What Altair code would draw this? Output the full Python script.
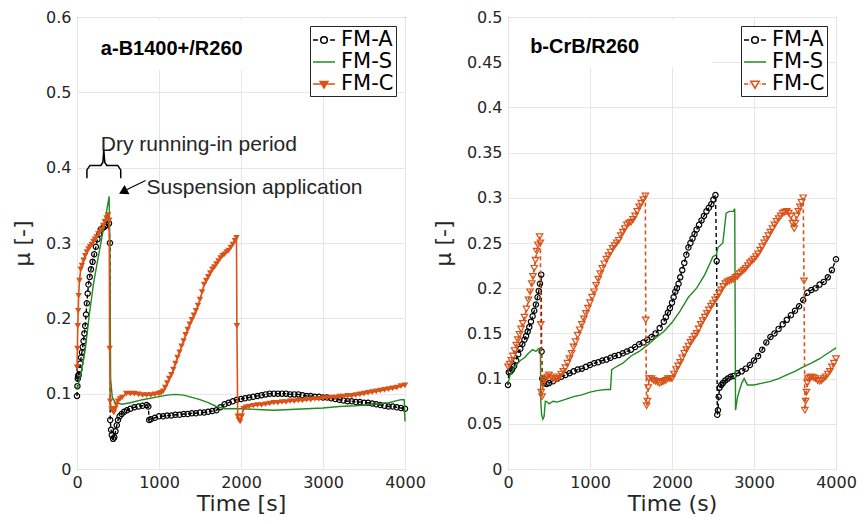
import altair as alt
import pandas as pd

# ---------------- data : panel a (B1400+/R260), (time s, mu) ----------------
a_FMA = [(0, 0.097), (5, 0.11), (10, 0.12), (15, 0.123), (20, 0.125), (30, 0.132), (40, 0.14),
         (50, 0.148), (60, 0.155), (70, 0.162), (80, 0.17), (90, 0.18), (100, 0.19), (110, 0.205),
         (120, 0.22), (130, 0.233), (140, 0.245), (155, 0.255), (170, 0.265), (190, 0.275),
         (210, 0.285), (230, 0.295), (250, 0.305), (270, 0.312), (290, 0.318), (315, 0.32),
         (340, 0.322), (365, 0.324), (390, 0.326), (402, 0.3), (405, 0.065), (415, 0.052),
         (425, 0.045), (440, 0.04), (455, 0.042), (470, 0.05), (485, 0.058), (500, 0.065),
         (520, 0.07), (545, 0.073), (575, 0.076), (610, 0.078), (650, 0.08), (700, 0.082),
         (750, 0.083), (800, 0.084), (850, 0.085), (870, 0.083), (880, 0.065), (900, 0.066),
         (950, 0.068), (1000, 0.07), (1050, 0.07), (1100, 0.071), (1150, 0.071), (1200, 0.072),
         (1250, 0.072), (1300, 0.073), (1350, 0.073), (1400, 0.074), (1450, 0.074), (1500, 0.075),
         (1550, 0.075), (1600, 0.076), (1650, 0.077), (1700, 0.078), (1750, 0.082), (1800, 0.086),
         (1850, 0.088), (1900, 0.09), (1950, 0.092), (2000, 0.093), (2050, 0.094), (2100, 0.095),
         (2150, 0.096), (2200, 0.097), (2250, 0.098), (2300, 0.099), (2350, 0.1), (2400, 0.1),
         (2450, 0.1), (2500, 0.1), (2550, 0.1), (2600, 0.099), (2650, 0.099), (2700, 0.099),
         (2750, 0.098), (2800, 0.097), (2850, 0.097), (2900, 0.096), (2950, 0.096), (3000, 0.095),
         (3050, 0.095), (3100, 0.094), (3150, 0.093), (3200, 0.092), (3250, 0.091), (3300, 0.09),
         (3350, 0.09), (3400, 0.089), (3450, 0.089), (3500, 0.088), (3550, 0.088), (3600, 0.087),
         (3650, 0.086), (3700, 0.085), (3750, 0.084), (3800, 0.083), (3850, 0.083), (3900, 0.082),
         (3950, 0.081), (4000, 0.08)]

a_FMS = [(0, 0.105), (50, 0.128), (100, 0.158), (150, 0.205), (200, 0.245), (250, 0.276),
         (300, 0.305), (350, 0.335), (392, 0.362), (400, 0.3), (410, 0.12), (430, 0.095),
         (470, 0.088), (550, 0.086), (650, 0.088), (800, 0.092), (1000, 0.096), (1100, 0.098),
         (1200, 0.099), (1300, 0.098), (1400, 0.095), (1500, 0.092), (1600, 0.088), (1700, 0.083),
         (1800, 0.08), (1900, 0.08), (2000, 0.08), (2200, 0.079), (2400, 0.078), (2600, 0.079),
         (2800, 0.08), (3000, 0.081), (3200, 0.083), (3400, 0.084), (3600, 0.086), (3800, 0.088),
         (3950, 0.092), (3990, 0.092), (4000, 0.063)]

a_FMC = [(0, 0.135), (5, 0.16), (10, 0.19), (15, 0.21), (20, 0.23), (30, 0.25), (45, 0.265),
         (60, 0.27), (80, 0.277), (100, 0.283), (120, 0.288), (140, 0.292), (160, 0.295),
         (180, 0.298), (200, 0.302), (220, 0.305), (240, 0.308), (260, 0.312), (280, 0.315),
         (300, 0.318), (320, 0.323), (340, 0.328), (360, 0.333), (380, 0.337), (393, 0.33),
         (398, 0.16), (405, 0.09), (420, 0.08), (435, 0.077), (450, 0.075), (465, 0.08),
         (480, 0.085), (500, 0.09), (525, 0.093), (550, 0.095), (600, 0.1), (650, 0.1), (700, 0.1),
         (750, 0.099), (800, 0.098), (850, 0.098), (900, 0.098), (950, 0.099), (1000, 0.1),
         (1025, 0.101), (1050, 0.103), (1075, 0.108), (1100, 0.114), (1125, 0.12), (1150, 0.125),
         (1175, 0.132), (1200, 0.14), (1225, 0.148), (1250, 0.155), (1275, 0.163), (1300, 0.17),
         (1325, 0.178), (1350, 0.185), (1375, 0.192), (1400, 0.198), (1425, 0.204), (1450, 0.21),
         (1475, 0.217), (1500, 0.225), (1525, 0.235), (1550, 0.245), (1575, 0.25), (1600, 0.255),
         (1625, 0.26), (1650, 0.265), (1675, 0.268), (1700, 0.272), (1725, 0.276), (1750, 0.28),
         (1775, 0.283), (1800, 0.285), (1825, 0.288), (1850, 0.29), (1875, 0.294), (1900, 0.298),
         (1925, 0.303), (1945, 0.307), (1950, 0.19), (1960, 0.07), (1975, 0.065), (1990, 0.063),
         (2010, 0.07), (2030, 0.08), (2060, 0.082), (2100, 0.083), (2150, 0.084), (2200, 0.085),
         (2250, 0.085), (2300, 0.086), (2350, 0.087), (2400, 0.088), (2450, 0.088), (2500, 0.089),
         (2550, 0.089), (2600, 0.09), (2650, 0.09), (2700, 0.091), (2750, 0.091), (2800, 0.092),
         (2850, 0.092), (2900, 0.093), (2950, 0.093), (3000, 0.094), (3050, 0.094), (3100, 0.095),
         (3150, 0.095), (3200, 0.096), (3250, 0.096), (3300, 0.097), (3350, 0.097), (3400, 0.098),
         (3450, 0.099), (3500, 0.1), (3550, 0.101), (3600, 0.102), (3650, 0.103), (3700, 0.104),
         (3750, 0.105), (3800, 0.106), (3850, 0.107), (3900, 0.108), (3950, 0.11), (4000, 0.111)]

# ---------------- data : panel b (CrB/R260), (time s, mu) ----------------
b_FMA = [(0, 0.093), (10, 0.107), (30, 0.108), (50, 0.11), (75, 0.114), (100, 0.12), (125, 0.127),
         (150, 0.133), (175, 0.138), (200, 0.143), (220, 0.147), (240, 0.152), (260, 0.157),
         (280, 0.163), (300, 0.169), (320, 0.175), (340, 0.182), (360, 0.19), (375, 0.197),
         (390, 0.205), (405, 0.215), (410, 0.13), (418, 0.1), (430, 0.097), (440, 0.095),
         (470, 0.094), (500, 0.095), (550, 0.097), (600, 0.1), (650, 0.102), (700, 0.104),
         (750, 0.106), (800, 0.108), (850, 0.11), (900, 0.111), (950, 0.113), (1000, 0.115),
         (1050, 0.117), (1100, 0.118), (1150, 0.12), (1200, 0.121), (1250, 0.123), (1300, 0.125),
         (1350, 0.126), (1400, 0.128), (1450, 0.13), (1500, 0.132), (1550, 0.135), (1600, 0.138),
         (1650, 0.14), (1700, 0.143), (1750, 0.146), (1800, 0.15), (1850, 0.156), (1900, 0.163),
         (1925, 0.168), (1950, 0.173), (1975, 0.178), (2000, 0.184), (2020, 0.19), (2040, 0.196),
         (2060, 0.2), (2080, 0.205), (2100, 0.212), (2125, 0.22), (2150, 0.228), (2175, 0.237),
         (2200, 0.245), (2225, 0.25), (2250, 0.255), (2275, 0.26), (2300, 0.265), (2330, 0.27),
         (2360, 0.275), (2390, 0.28), (2420, 0.285), (2450, 0.289), (2480, 0.293), (2505, 0.298),
         (2530, 0.303), (2545, 0.23), (2552, 0.06), (2560, 0.065), (2570, 0.08), (2580, 0.09),
         (2600, 0.093), (2620, 0.095), (2650, 0.098), (2680, 0.1), (2715, 0.102), (2750, 0.103),
         (2800, 0.106), (2850, 0.108), (2900, 0.111), (2950, 0.115), (3000, 0.12), (3050, 0.125),
         (3100, 0.132), (3150, 0.14), (3200, 0.146), (3250, 0.15), (3300, 0.155), (3350, 0.16),
         (3400, 0.165), (3450, 0.17), (3500, 0.175), (3550, 0.18), (3600, 0.187), (3650, 0.195),
         (3700, 0.198), (3750, 0.2), (3800, 0.204), (3850, 0.207), (3900, 0.212), (3950, 0.22),
         (4000, 0.232)]

b_FMS = [(0, 0.095), (30, 0.105), (80, 0.113), (150, 0.12), (200, 0.123), (250, 0.128),
         (300, 0.132), (340, 0.13), (370, 0.133), (395, 0.134), (400, 0.075), (410, 0.06),
         (425, 0.055), (440, 0.058), (455, 0.075), (480, 0.074), (500, 0.072), (550, 0.075),
         (600, 0.074), (700, 0.077), (800, 0.08), (900, 0.082), (1000, 0.085), (1100, 0.087),
         (1200, 0.088), (1250, 0.088), (1265, 0.11), (1300, 0.112), (1400, 0.117), (1500, 0.125),
         (1600, 0.13), (1700, 0.137), (1800, 0.145), (1900, 0.152), (2000, 0.162), (2100, 0.175),
         (2200, 0.19), (2300, 0.2), (2400, 0.215), (2500, 0.235), (2540, 0.237), (2560, 0.245),
         (2620, 0.25), (2660, 0.283), (2700, 0.285), (2750, 0.285), (2765, 0.288), (2775, 0.065),
         (2800, 0.08), (2850, 0.095), (2880, 0.1), (2920, 0.093), (3000, 0.093), (3100, 0.095),
         (3200, 0.097), (3300, 0.1), (3400, 0.104), (3500, 0.108), (3600, 0.113), (3700, 0.117),
         (3800, 0.122), (3900, 0.128), (4000, 0.134)]

b_FMC = [(0, 0.113), (20, 0.116), (40, 0.12), (60, 0.125), (80, 0.131), (100, 0.137), (120, 0.143),
         (140, 0.149), (160, 0.155), (180, 0.161), (200, 0.168), (225, 0.177), (250, 0.187),
         (270, 0.196), (290, 0.205), (305, 0.213), (320, 0.222), (335, 0.231), (350, 0.241),
         (365, 0.248), (385, 0.257), (395, 0.25), (400, 0.16), (405, 0.085), (415, 0.08),
         (430, 0.095), (445, 0.098), (460, 0.1), (480, 0.102), (500, 0.104), (525, 0.102),
         (550, 0.1), (575, 0.1), (600, 0.1), (625, 0.102), (650, 0.105), (675, 0.108), (700, 0.112),
         (725, 0.117), (750, 0.122), (775, 0.128), (800, 0.135), (825, 0.141), (850, 0.148),
         (875, 0.154), (900, 0.16), (925, 0.166), (950, 0.172), (975, 0.178), (1000, 0.184),
         (1025, 0.19), (1050, 0.196), (1075, 0.203), (1100, 0.21), (1125, 0.216), (1150, 0.222),
         (1175, 0.227), (1200, 0.232), (1225, 0.236), (1250, 0.24), (1275, 0.244), (1300, 0.247),
         (1325, 0.25), (1350, 0.253), (1375, 0.258), (1400, 0.262), (1425, 0.266), (1450, 0.27),
         (1475, 0.272), (1500, 0.273), (1525, 0.276), (1550, 0.28), (1575, 0.285), (1600, 0.29),
         (1625, 0.294), (1650, 0.298), (1675, 0.302), (1680, 0.165), (1690, 0.07), (1700, 0.075),
         (1710, 0.09), (1720, 0.1), (1750, 0.1), (1775, 0.098), (1800, 0.097), (1825, 0.096),
         (1850, 0.095), (1875, 0.096), (1900, 0.097), (1925, 0.098), (1950, 0.1), (1975, 0.1),
         (2000, 0.1), (2025, 0.105), (2050, 0.11), (2075, 0.114), (2100, 0.118), (2125, 0.123),
         (2150, 0.128), (2175, 0.132), (2200, 0.136), (2225, 0.14), (2250, 0.143), (2275, 0.147),
         (2300, 0.15), (2325, 0.155), (2350, 0.16), (2375, 0.164), (2400, 0.168), (2425, 0.172),
         (2450, 0.176), (2475, 0.18), (2500, 0.183), (2525, 0.187), (2550, 0.19), (2575, 0.194),
         (2600, 0.198), (2625, 0.202), (2650, 0.205), (2675, 0.207), (2700, 0.208), (2725, 0.209),
         (2750, 0.21), (2775, 0.212), (2800, 0.213), (2825, 0.216), (2850, 0.218), (2875, 0.22),
         (2900, 0.222), (2925, 0.225), (2950, 0.228), (2975, 0.23), (3000, 0.232), (3025, 0.235),
         (3050, 0.238), (3075, 0.242), (3100, 0.246), (3125, 0.25), (3150, 0.254), (3175, 0.258),
         (3200, 0.262), (3225, 0.266), (3250, 0.27), (3275, 0.274), (3300, 0.277), (3325, 0.28),
         (3350, 0.283), (3375, 0.284), (3400, 0.285), (3425, 0.283), (3450, 0.28), (3470, 0.272),
         (3490, 0.266), (3505, 0.272), (3520, 0.28), (3540, 0.285), (3560, 0.29), (3580, 0.295),
         (3600, 0.3), (3610, 0.208), (3620, 0.065), (3630, 0.075), (3640, 0.085), (3650, 0.095),
         (3660, 0.1), (3680, 0.101), (3700, 0.102), (3725, 0.101), (3750, 0.1), (3775, 0.098),
         (3800, 0.097), (3825, 0.098), (3850, 0.1), (3875, 0.102), (3900, 0.105), (3925, 0.108),
         (3950, 0.113), (3975, 0.117), (4000, 0.122)]

SERIES = ["FM-A", "FM-S", "FM-C"]
X_TICKS = [0, 1000, 2000, 3000, 4000]
A_YTICKS = [0, 0.1, 0.2, 0.3, 0.4, 0.5, 0.6]
B_YTICKS = [0, 0.05, 0.1, 0.15, 0.2, 0.25, 0.3, 0.35, 0.4, 0.45, 0.5]

# annotation anchors (data coordinates)
A_TITLE = ("a-B1400+/R260", 291, 0.550)
B_TITLE = ("b-CrB/R260", 270, 0.4605)
A_BOX = (25, 3100, 0.53, 0.596)
B_BOX = (25, 2500, 0.444, 0.497)
DRY_TEXT = ("Dry running-in period", 291, 0.4224)
SUSP_TEXT = ("Suspension application", 848, 0.365)
BRACE_T = [121, 121, 158, 291, 315, 327, 339, 364, 497, 533, 533]
BRACE_MU = [0.386, 0.397, 0.403, 0.403, 0.407, 0.423, 0.407, 0.403, 0.403, 0.397, 0.386]
ARROW_TAIL = (836, 0.383)
ARROW_END = (610, 0.371)
ARROW_HEAD = (578, 0.369)

BLACK = "#000000"
GREEN = "#1f8a1f"
ORANGE = "#D95319"
TXT = "#262626"

LEG_A = "M-1,0H-0.55M0.55,0H1M0.3,0A0.3,0.3,0,1,1,-0.3,0A0.3,0.3,0,1,1,0.3,0Z"
LEG_S = "M-1,0H1"
LEG_C_SOLID = "M-1,0H1M-0.35,-0.22L0.35,-0.22L0,0.36Z"
LEG_C_DASH = "M-1,0H-0.62M-0.5,0H-0.42M0.42,0H0.5M0.62,0H1M-0.38,-0.25L0.38,-0.25L0,0.38Z"


def sdf(pairs):
    return pd.DataFrame(pairs, columns=["t", "mu"])


def panel(A, S, C, ymax, yticks, xtitle, c_dashed, c_filled, leg_paths, leg_fills, title, box, extra):
    X = alt.X("t:Q", scale=alt.Scale(domain=[0, 4000], nice=False, zero=False),
              axis=alt.Axis(values=X_TICKS, format="d", title=xtitle))
    Y = alt.Y("mu:Q", scale=alt.Scale(domain=[0, ymax], nice=False, zero=False),
              axis=alt.Axis(values=yticks, format="~g", title="μ [-]"))
    layers = []
    bx = pd.DataFrame({"t": [box[0]], "t2": [box[1]], "mu": [box[2]], "mu2": [box[3]]})
    layers.append(alt.Chart(bx).mark_rect(fill="white").encode(x=X, x2="t2:Q", y=Y, y2="mu2:Q"))
    layers.append(alt.Chart(sdf(A)).mark_line(color=BLACK, strokeDash=[4, 3], strokeWidth=1.4)
                  .encode(x=X, y=Y))
    layers.append(alt.Chart(sdf(A)).mark_point(shape="circle", filled=False, color=BLACK, size=28,
                                               strokeWidth=1.2, opacity=1).encode(x=X, y=Y))
    layers.append(alt.Chart(sdf(S)).mark_line(color=GREEN, strokeWidth=1.4).encode(x=X, y=Y))
    ckw = dict(color=ORANGE, strokeWidth=1.6)
    if c_dashed:
        ckw["strokeDash"] = [4, 3]
    layers.append(alt.Chart(sdf(C)).mark_line(**ckw).encode(x=X, y=Y))
    layers.append(alt.Chart(sdf(C)).mark_point(shape="triangle-down", filled=c_filled, color=ORANGE,
                                               size=42, strokeWidth=1.2, opacity=1).encode(x=X, y=Y))
    tdf = pd.DataFrame({"t": [title[1]], "mu": [title[2]], "label": [title[0]]})
    layers.append(alt.Chart(tdf).mark_text(align="left", baseline="alphabetic", font="Liberation Sans",
                                           fontSize=20, fontWeight="bold", color=BLACK)
                  .encode(x=X, y=Y, text="label:N"))
    layers.extend(extra(X, Y))
    # legend: clipped dummy marks carry the legend symbols
    leg = alt.Legend(title=None, orient="top-right")
    ldf = pd.DataFrame({"t": [-5000] * 3, "mu": [-1] * 3, "series": SERIES})
    layers.append(alt.Chart(ldf).mark_point(clip=True, size=484, strokeWidth=1.5, opacity=1).encode(
        x=X, y=Y,
        shape=alt.Shape("series:N", scale=alt.Scale(domain=SERIES, range=leg_paths), legend=leg),
        stroke=alt.Stroke("series:N", scale=alt.Scale(domain=SERIES, range=[BLACK, GREEN, ORANGE]),
                          legend=leg),
        fill=alt.Fill("series:N", scale=alt.Scale(domain=SERIES, range=leg_fills), legend=leg)))
    return alt.layer(*layers).properties(width=328, height=452)


def extra_a(X, Y):
    out = []
    txt = pd.DataFrame({"t": [DRY_TEXT[1], SUSP_TEXT[1]], "mu": [DRY_TEXT[2], SUSP_TEXT[2]],
                        "label": [DRY_TEXT[0], SUSP_TEXT[0]]})
    out.append(alt.Chart(txt).mark_text(align="left", baseline="alphabetic", font="Liberation Sans",
                                        fontSize=21, color=TXT).encode(x=X, y=Y, text="label:N"))
    br = pd.DataFrame({"t": BRACE_T, "mu": BRACE_MU, "i": list(range(len(BRACE_T)))})
    out.append(alt.Chart(br).mark_line(color=BLACK, strokeWidth=1.5)
               .encode(x=X, y=Y, order="i:Q"))
    ar = pd.DataFrame({"t": [ARROW_TAIL[0]], "mu": [ARROW_TAIL[1]],
                       "t2": [ARROW_END[0]], "mu2": [ARROW_END[1]]})
    out.append(alt.Chart(ar).mark_rule(color=BLACK, strokeWidth=1.2)
               .encode(x=X, y=Y, x2="t2:Q", y2="mu2:Q"))
    ah = pd.DataFrame({"t": [ARROW_HEAD[0]], "mu": [ARROW_HEAD[1]]})
    out.append(alt.Chart(ah).mark_point(shape="triangle", angle=242, filled=True, color=BLACK,
                                        size=110, opacity=1).encode(x=X, y=Y))
    return out


def extra_b(X, Y):
    return []


left = panel(a_FMA, a_FMS, a_FMC, 0.6, A_YTICKS, "Time [s]",
             False, True, [LEG_A, LEG_S, LEG_C_SOLID], ["white", GREEN, ORANGE],
             A_TITLE, A_BOX, extra_a)
right = panel(b_FMA, b_FMS, b_FMC, 0.5, B_YTICKS, "Time (s)",
              True, False, [LEG_A, LEG_S, LEG_C_DASH], ["white", GREEN, "white"],
              B_TITLE, B_BOX, extra_b)

chart = (alt.hconcat(left, right, spacing=5)
         .resolve_scale(shape="independent", fill="independent", stroke="independent")
         .resolve_legend(shape="independent", fill="independent", stroke="independent")
         .properties(padding={"left": 3, "top": 0, "right": 0, "bottom": 0}, background="white")
         .configure_view(stroke="#444444", strokeWidth=1)
         .configure_axis(labelFont="DejaVu Sans", labelFontSize=16, labelColor=TXT,
                         titleFont="DejaVu Sans", titleFontSize=22, titleFontWeight="normal",
                         titleColor=TXT, gridColor="#e6e6e6", gridWidth=1, domain=False,
                         ticks=False)
         .configure_axisX(labelPadding=5, titlePadding=3, labelFlush=False)
         .configure_axisY(labelPadding=6, titlePadding=11)
         .configure_legend(offset=9, strokeColor=TXT, fillColor="white", padding=2,
                           labelFont="DejaVu Sans", labelFontSize=21, labelColor=BLACK,
                           symbolSize=484, symbolStrokeWidth=1.5, rowPadding=0, labelOffset=5,
                           cornerRadius=0))

chart.save("out.html", embed_options={"renderer": "svg", "actions": False})
